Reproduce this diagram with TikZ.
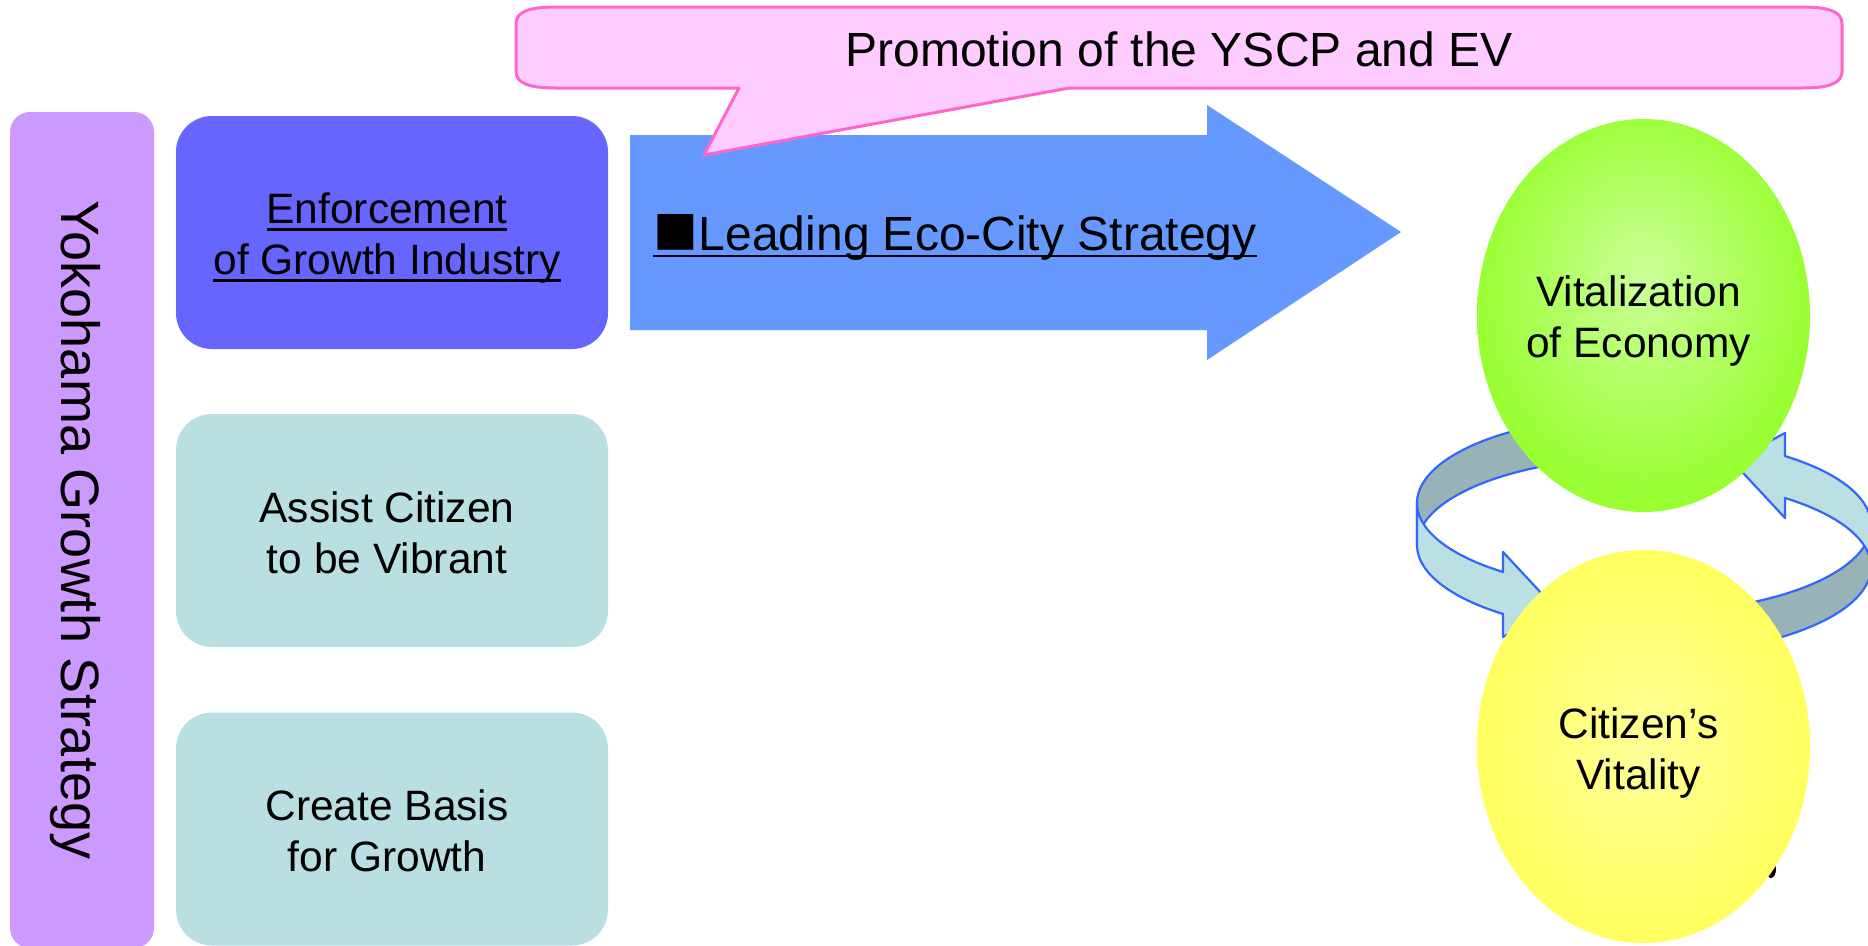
\documentclass[tikz,border=0pt]{standalone}
\usepackage{fontspec}
\setmainfont{Liberation Sans}
\usetikzlibrary{shapes.geometric}
\definecolor{purp}{HTML}{CC99FF}
\definecolor{boxblue}{HTML}{6666FF}
\definecolor{boxteal}{HTML}{BADFE3}
\definecolor{arrblue}{HTML}{6699FF}
\definecolor{callfill}{HTML}{FFCCFF}
\definecolor{callline}{HTML}{FF66CC}
\definecolor{ribline}{HTML}{3366FF}
\definecolor{ribgray}{HTML}{97B3B7}
\definecolor{ribblue}{HTML}{BAE0E3}
\definecolor{gcen}{HTML}{CCFF99}
\definecolor{gout}{HTML}{99FF33}
\definecolor{ycen}{HTML}{FFFF99}
\definecolor{yout}{HTML}{FFFF5E}
\pgfdeclareradialshading{greenball}{\pgfpoint{0bp}{5bp}}{color(0bp)=(gcen); color(25bp)=(gout); color(50bp)=(gout)}
\pgfdeclareradialshading{yellowball}{\pgfpoint{0bp}{0bp}}{color(0bp)=(ycen); color(25bp)=(yout); color(50bp)=(yout)}
\newcommand\myul[1]{\setbox0=\hbox{#1}\rlap{\rule[-7pt]{\wd0}{2.5pt}}\box0}
\newcommand\ribbonarrow{%
  \filldraw[fill=ribgray, draw=ribline, line width=2.2pt, line join=round]
    plot[domain=255:180, samples=40] ({1644+227*cos(\x)},{503+88*sin(\x)})
    -- plot[domain=180:255, samples=40] ({1644+227*cos(\x)},{545+88*sin(\x)}) -- cycle;
  \filldraw[fill=ribblue, draw=ribline, line width=2.2pt, line join=round]
    plot[domain=180:128.4, samples=40] ({1644+227*cos(\x)},{503+88*sin(\x)})
    -- (1503,552) -- (1556,609) -- (1503,637)
    -- plot[domain=128.4:180, samples=40] ({1644+227*cos(\x)},{545+88*sin(\x)}) -- cycle;
}
\begin{document}
\begin{tikzpicture}[x=1pt, y=-1pt,
  font=\fontsize{42.5}{51}\selectfont,
  box/.style={rounded corners=36pt, minimum width=432pt, minimum height=233pt, inner sep=0pt},
  txt/.style={align=center, inner sep=0pt},
  ball/.style={ellipse, minimum width=333pt, minimum height=393pt, inner sep=0pt}]
\useasboundingbox (0,0) rectangle (1868,945);
\fill[white] (0,0) rectangle (1868,945);

% left bar
\node[fill=purp, rounded corners=20pt, minimum width=144pt, minimum height=836pt, inner sep=0pt] (bar) at (82,530) {};
\node[rotate=-90, anchor=base, inner sep=0pt, font=\fontsize{54}{60}\selectfont] (ygs) at (61,530) {Yokohama Growth Strategy};

% boxes
\node[box, fill=boxblue] (enf) at (392,232.5) {};
\node[txt] (enft) at (387,238.5) {\myul{Enforcement}\\\myul{of Growth Industry}};
\node[box, fill=boxteal] (assist) at (392,530.5) {};
\node[txt] (assistt) at (387,532.5) {Assist Citizen\\to be Vibrant};
\node[box, fill=boxteal] (basis) at (392,829) {};
\node[txt] (basist) at (387,830.5) {Create Basis\\for Growth};

% big arrow
\fill[arrblue] (630,135) -- (1207,135) -- (1207,105) -- (1401,232) -- (1207,360) -- (1207,330) -- (630,330) -- cycle;
\node[anchor=base west, inner sep=0pt, font=\fontsize{48}{56}\selectfont] (lead) at (653,250)
  {\myul{\raisebox{-4pt}{\fontsize{74}{80}\selectfont ■}\kern1pt Leading Eco-City Strategy}};

% callout
\filldraw[fill=callfill, draw=callline, line width=3pt, line join=round]
  (556,7) -- (1802,7) .. controls (1830,7) and (1842,12) .. (1842,24) -- (1842,71)
  .. controls (1842,83) and (1830,88) .. (1802,88) -- (1069,88) -- (704,155) -- (739,88) -- (556,88)
  .. controls (528,88) and (516,83) .. (516,71) -- (516,24) .. controls (516,12) and (528,7) .. (556,7) -- cycle;
\node[font=\fontsize{48}{56}\selectfont] (promo) at (1179,49) {Promotion of the YSCP and EV};

% cycle arrows
\ribbonarrow
\begin{scope}[rotate around={180:(1644,535)}]
\ribbonarrow
\end{scope}

% small mark behind the yellow ellipse
\fill[black] (1771,869) ellipse (5 and 9);

% ellipses
\node[ball, shade, shading=greenball] (econ) at (1643.5,315.5) {};
\node[txt] (econt) at (1638.5,321.5) {Vitalization\\of Economy};
\node[ball, shade, shading=yellowball] (citizen) at (1643.5,746.5) {};
\node[txt] (citizent) at (1638.5,752.5) {Citizen’s\\Vitality};
\end{tikzpicture}
\end{document}
